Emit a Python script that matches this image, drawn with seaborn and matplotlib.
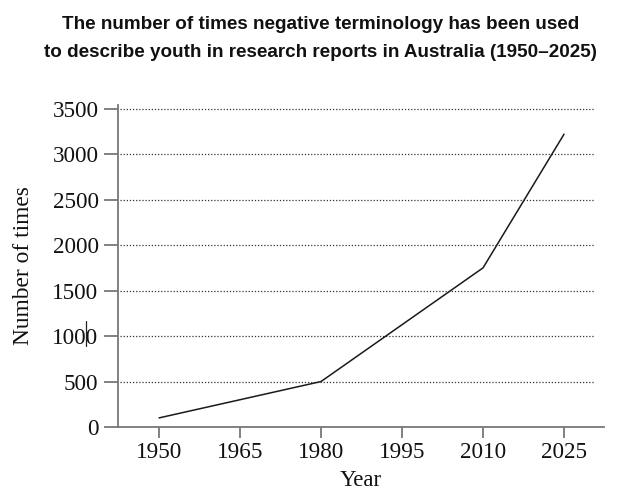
import numpy as np
import pandas as pd
import matplotlib
matplotlib.use('Agg')
import matplotlib.pyplot as plt
import seaborn as sns
from matplotlib.lines import Line2D

years = [1950, 1965, 1980, 1995, 2010, 2025]
counts = [100, 300, 500, 1125, 1750, 3220]
yticks = [0, 500, 1000, 1500, 2000, 2500, 3000, 3500]

sns.set_theme(style='ticks')
plt.rcParams['font.family'] = ['Liberation Serif', 'DejaVu Serif']

df = pd.DataFrame({'Year': years, 'Count': counts})

fig = plt.figure(figsize=(6.42, 5.03), dpi=100)
ax = fig.add_axes([0.1838, 0.1511, 0.757, 0.640])

for v in yticks[1:]:
    ax.axhline(v, xmin=0.005, xmax=0.979, color='#333333', lw=0.9, ls=(0, (1, 1.5)), zorder=1)

sns.lineplot(data=df, x='Year', y='Count', color='#1a1a1a', lw=1.1, ax=ax, zorder=3)

ax.set_xlim(1942.4, 2032.4)
ax.set_ylim(0, 3540)
ax.set_xticks(years)
ax.set_yticks(yticks)
ax.tick_params(axis='both', colors='#777777', labelcolor='#111111', labelsize=16.7, width=1.3)
ax.tick_params(axis='x', length=8, pad=3)
ax.tick_params(axis='y', length=10, pad=4)
for s in ['top', 'right']:
    ax.spines[s].set_visible(False)
for s in ['left', 'bottom']:
    ax.spines[s].set_color('#777777')
    ax.spines[s].set_linewidth(1.3)

ax.set_xlabel('Year', fontsize=16.5, color='#111111', labelpad=5)
ax.set_ylabel('Number of times', fontsize=16.8, color='#111111', labelpad=13.5)

fig.text(0.5, 0.968, 'The number of times negative terminology has been used\nto describe youth in research reports in Australia (1950\u20132025)',
         ha='center', va='top', fontsize=13.6, fontweight='bold', family=['Liberation Sans', 'DejaVu Sans'],
         linespacing=1.85, color='#111111')

# stray cursor mark beside the 1000 label
fig.add_artist(Line2D([86 / 642, 86 / 642], [1 - 321 / 503, 1 - 346 / 503], color='#222222', lw=0.9))

plt.savefig('out.png', dpi=100)
